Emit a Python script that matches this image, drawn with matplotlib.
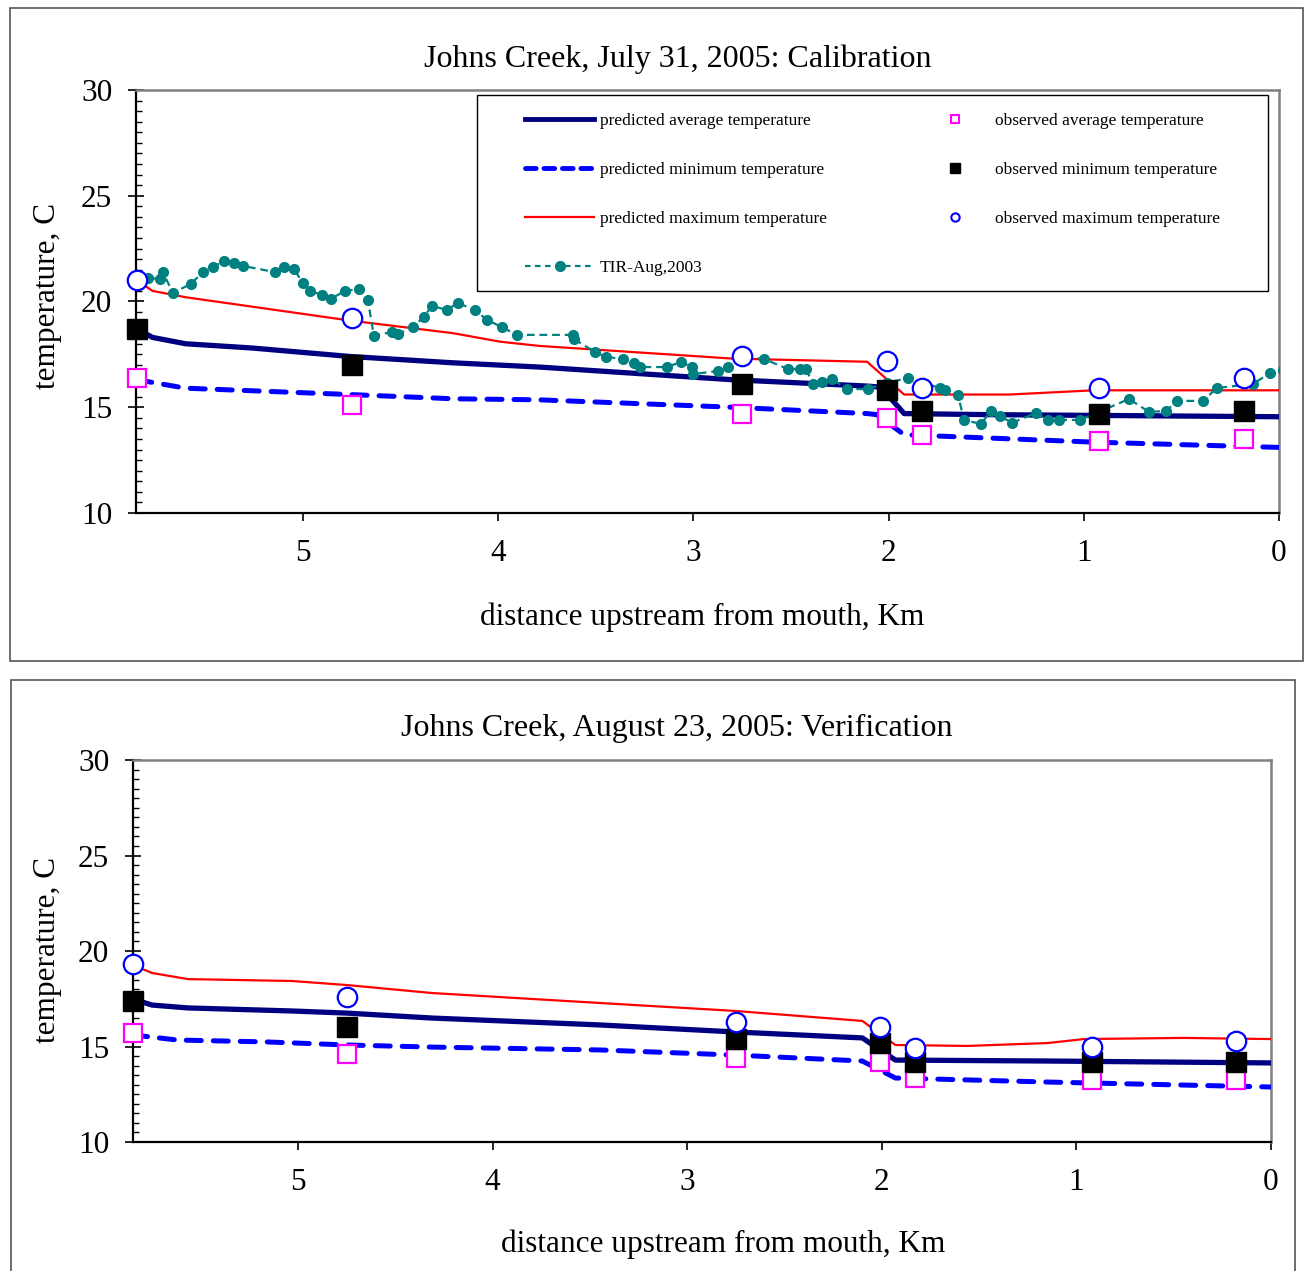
import matplotlib
matplotlib.use("Agg")
import matplotlib.pyplot as plt
from matplotlib.lines import Line2D
from matplotlib.patches import Rectangle
from matplotlib.ticker import MultipleLocator

plt.rcParams['font.family'] = ['Liberation Serif', 'DejaVu Serif']

# observation stations, km upstream from mouth
km_obs = [5.85, 4.75, 2.75, 2.01, 1.83, 0.92, 0.18]

# --- July 31 (calibration) ---
cal_obs_max = [21.0, 19.2, 17.4, 17.2, 15.9, 15.9, 16.4]
cal_obs_min = [18.7, 17.0, 16.1, 15.8, 14.8, 14.7, 14.8]
cal_obs_avg = [16.4, 15.1, 14.7, 14.5, 13.7, 13.4, 13.5]

cal_avg_km = [5.85, 5.77, 5.6, 5.26, 4.76, 4.23, 3.79, 2.8, 2.11, 2.04, 1.92, 1.5, 0.0]
cal_avg_t = [18.7, 18.3, 18.0, 17.8, 17.4, 17.1, 16.9, 16.3, 16.0, 15.95, 14.7, 14.65, 14.55]

cal_max_km = [5.85, 5.77, 5.6, 4.76, 4.23, 3.99, 3.79, 2.8, 2.11, 1.92, 1.38, 0.95, 0.0]
cal_max_t = [21.0, 20.5, 20.2, 19.1, 18.5, 18.1, 17.9, 17.3, 17.15, 15.6, 15.6, 15.8, 15.8]

cal_min_km = [5.85, 5.6, 4.76, 4.23, 3.79, 2.8, 2.11, 2.06, 1.92, 0.95, 0.0]
cal_min_t = [16.3, 15.9, 15.6, 15.4, 15.35, 15.0, 14.7, 14.65, 13.7, 13.35, 13.1]

tir_km = [5.85, 5.794, 5.733, 5.717, 5.666, 5.574, 5.512, 5.461, 5.405, 5.353,
          5.307, 5.143, 5.097, 5.046, 5.0, 4.964, 4.903, 4.857, 4.785, 4.713,
          4.667, 4.636, 4.544, 4.513, 4.436, 4.380, 4.339, 4.262, 4.206, 4.119,
          4.057, 3.981, 3.904, 3.617, 3.612, 3.504, 3.448, 3.361, 3.304, 3.274,
          3.135, 3.064, 3.005, 3.0, 2.874, 2.823, 2.746, 2.638, 2.515, 2.454,
          2.423, 2.387, 2.341, 2.290, 2.213, 2.106, 2.008, 1.901, 1.737, 1.711,
          1.644, 1.614, 1.527, 1.475, 1.429, 1.368, 1.245, 1.183, 1.127, 1.019,
          0.917, 0.768, 0.666, 0.579, 0.523, 0.389, 0.318, 0.133, 0.046, -0.02]
tir_t = [21.2, 21.11, 21.06, 21.39, 20.40, 20.83, 21.39, 21.63, 21.91, 21.82,
         21.68, 21.39, 21.63, 21.54, 20.87, 20.50, 20.31, 20.12, 20.50, 20.59,
         20.07, 18.37, 18.56, 18.46, 18.79, 19.27, 19.79, 19.60, 19.93, 19.60,
         19.13, 18.79, 18.42, 18.42, 18.23, 17.61, 17.38, 17.28, 17.09, 16.90,
         16.90, 17.14, 16.90, 16.57, 16.71, 16.90, 17.4, 17.28, 16.81, 16.81,
         16.81, 16.10, 16.19, 16.34, 15.86, 15.86, 16.15, 16.38, 15.91, 15.82,
         15.58, 14.40, 14.21, 14.82, 14.59, 14.26, 14.73, 14.40, 14.40, 14.40,
         14.8, 15.39, 14.78, 14.82, 15.30, 15.30, 15.91, 16.10, 16.62, 16.75]

# --- August 23 (verification) ---
ver_obs_max = [19.3, 17.6, 16.3, 16.0, 14.9, 15.0, 15.3]
ver_obs_min = [17.4, 16.0, 15.4, 15.2, 14.2, 14.2, 14.2]
ver_obs_avg = [15.7, 14.6, 14.4, 14.2, 13.35, 13.25, 13.25]

ver_max_km = [5.85, 5.80, 5.75, 5.565, 5.03, 4.75, 4.31, 3.45, 2.75, 2.10, 1.93, 1.56, 1.15, 0.96, 0.45, 0.0]
ver_max_t = [19.3, 19.06, 18.85, 18.53, 18.43, 18.22, 17.8, 17.28, 16.86, 16.34, 15.08, 15.03, 15.18, 15.39, 15.45, 15.39]

ver_avg_km = [5.85, 5.80, 5.75, 5.565, 5.03, 4.75, 4.31, 3.45, 2.75, 2.10, 1.93, 1.15, 0.0]
ver_avg_t = [17.4, 17.33, 17.17, 17.02, 16.86, 16.75, 16.49, 16.13, 15.76, 15.45, 14.29, 14.24, 14.14]

ver_min_km = [5.85, 5.80, 5.62, 5.16, 4.75, 4.31, 3.45, 2.75, 2.10, 1.93, 1.15, 0.0]
ver_min_t = [15.6, 15.55, 15.34, 15.24, 15.08, 14.97, 14.82, 14.55, 14.24, 13.35, 13.14, 12.88]

xticks = [0, 1, 2, 3, 4, 5]
yticks = [10, 15, 20, 25, 30]

NAVY = '#000080'
BLUE = '#0000ff'
RED = '#ff0000'
TEAL = '#008080'
MAG = '#ff00ff'
GRAY = '#808080'

fig = plt.figure(figsize=(13.06, 12.71), dpi=100)

# outer panel frames
fig.patches.append(Rectangle((0.0077, 0.4799), 0.99, 0.5138, transform=fig.transFigure,
                             fill=False, edgecolor='#555555', lw=1.2))
fig.patches.append(Rectangle((0.0084, -0.02), 0.9832, 0.485, transform=fig.transFigure,
                             fill=False, edgecolor='#555555', lw=1.2))

ax1 = fig.add_axes([0.1041, 0.5964, 0.8752, 0.3328])
ax2 = fig.add_axes([0.1018, 0.1015, 0.8714, 0.3005])


def style(ax, xmax):
    ax.set_xlim(xmax, 0)
    ax.set_ylim(10, 30)
    ax.set_xticks(xticks)
    ax.set_yticks(yticks)
    ax.yaxis.set_minor_locator(MultipleLocator(0.5))
    ax.tick_params(axis='y', which='major', direction='inout', length=12, width=1.2,
                   labelsize=22.5, pad=11)
    ax.tick_params(axis='y', which='minor', direction='in', length=4.5, width=1.0)
    ax.tick_params(axis='x', which='major', direction='out', length=6, width=1.2,
                   labelsize=22.5, pad=13)
    for s in ['left', 'bottom']:
        ax.spines[s].set_linewidth(1.6)
        ax.spines[s].set_color('black')
    for s in ['top', 'right']:
        ax.spines[s].set_linewidth(1.8)
        ax.spines[s].set_color(GRAY)


def draw(ax, avg_km, avg_t, min_km, min_t, max_km, max_t, o_avg, o_min, o_max):
    ax.plot(max_km, max_t, color=RED, lw=1.6, zorder=3)
    ax.plot(min_km, min_t, color=BLUE, lw=3.6, dashes=[3, 2.4],
            dash_capstyle='round', zorder=3)
    ax.plot(avg_km, avg_t, color=NAVY, lw=3.8, zorder=3)
    ax.plot(km_obs, o_avg, ls='none', marker='s', ms=13, mfc='white', mec=MAG,
            mew=1.6, clip_on=False, zorder=5)
    ax.plot(km_obs, o_min, ls='none', marker='s', ms=14, mfc='black', mec='black',
            clip_on=False, zorder=6)
    ax.plot(km_obs, o_max, ls='none', marker='o', ms=14, mfc='white', mec=BLUE,
            mew=1.6, clip_on=False, zorder=7)


style(ax1, 5.855)
style(ax2, 5.848)

draw(ax1, cal_avg_km, cal_avg_t, cal_min_km, cal_min_t, cal_max_km, cal_max_t,
     cal_obs_avg, cal_obs_min, cal_obs_max)
ax1.plot(tir_km, tir_t, color=TEAL, lw=1.6, dashes=[3.5, 2.2], marker='o', ms=7,
         mfc=TEAL, mec=TEAL, zorder=4)

draw(ax2, ver_avg_km, ver_avg_t, ver_min_km, ver_min_t, ver_max_km, ver_max_t,
     ver_obs_avg, ver_obs_min, ver_obs_max)

# legend (top panel only)
handles = [
    Line2D([], [], color=NAVY, lw=3.5),
    Line2D([], [], color=BLUE, lw=3.5, dashes=[2.2, 1.6], dash_capstyle='round'),
    Line2D([], [], color=RED, lw=1.6),
    Line2D([], [], color=TEAL, lw=1.6, dashes=[2.5, 2.0], marker='o', ms=7, mfc=TEAL, mec=TEAL),
    Line2D([], [], ls='none', marker='s', ms=6, mfc='white', mec=MAG, mew=1.5),
    Line2D([], [], ls='none', marker='s', ms=7, mfc='black', mec='black'),
    Line2D([], [], ls='none', marker='o', ms=6, mfc='white', mec=BLUE, mew=1.5),
]
labels = ['predicted average temperature', 'predicted minimum temperature',
          'predicted maximum temperature', 'TIR-Aug,2003',
          'observed average temperature', 'observed minimum temperature',
          'observed maximum temperature']
ax1.add_patch(Rectangle((0.2983, 0.5248), 0.6921, 0.4634, transform=ax1.transAxes,
                        fill=True, facecolor='white', edgecolor='black', lw=1.0, zorder=8))
leg = ax1.legend(handles, labels, ncol=2, loc='upper left', bbox_to_anchor=(0.3403, 0.9465),
                 frameon=False, fontsize=12.5, borderpad=0, borderaxespad=0,
                 handlelength=4.0, handletextpad=0.3, labelspacing=1.9,
                 columnspacing=5.4)
leg.set_zorder(9)

fig.text(0.519, 0.9535, 'Johns Creek, July 31, 2005: Calibration', ha='center', va='center', fontsize=23)
fig.text(0.538, 0.5146, 'distance upstream from mouth, Km', ha='center', va='center', fontsize=22.5)
fig.text(0.036, 0.767, 'temperature, C', ha='center', va='center', rotation=90, fontsize=22.5)

fig.text(0.518, 0.4265, 'Johns Creek, August 23, 2005: Verification', ha='center', va='center', fontsize=23)
fig.text(0.554, 0.021, 'distance upstream from mouth, Km', ha='center', va='center', fontsize=22.5)
fig.text(0.036, 0.2526, 'temperature, C', ha='center', va='center', rotation=90, fontsize=22.5)

fig.savefig('out.png', dpi=100)
